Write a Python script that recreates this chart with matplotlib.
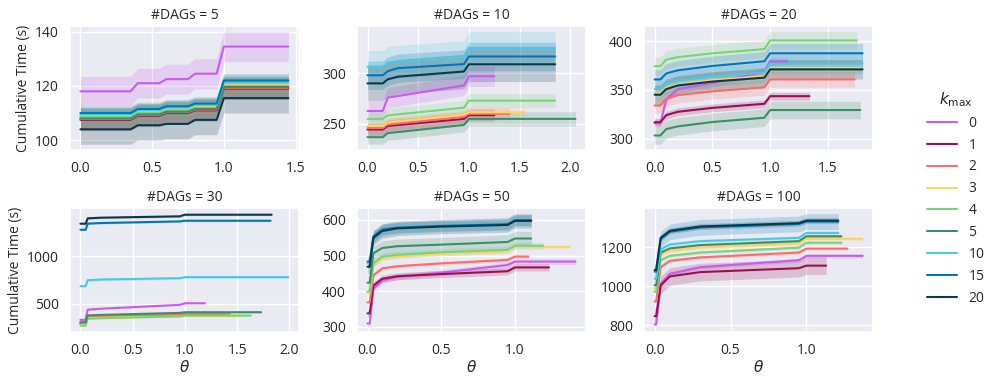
import matplotlib
matplotlib.use("Agg")
import matplotlib.pyplot as plt
import seaborn as sns
from matplotlib.lines import Line2D

sns.set_theme(style="darkgrid")
plt.rcParams['font.family'] = ['Open Sans', 'DejaVu Sans']

k_labels = ["0", "1", "2", "3", "4", "5", "10", "15", "20"]
colors = ["#c95bf0", "#9b0f52", "#ff6b6b", "#ffd166", "#77d47a",
          "#3a8f65", "#48cae4", "#0077b6", "#073b4c"]
n_dags = [5, 10, 20, 30, 50, 100]

# ---- #DAGs = 5 ----
theta_5 = [0, 0.35, 0.4, 0.55, 0.6, 0.75, 0.8, 0.95, 1.0]
end_5 = [1.45, 1.45, 1.45, 1.45, 1.45, 1.45, 1.45, 1.45, 1.45]
band_5 = [5.5, 4, 4, 3, 3, 4, 2.5, 2.5, 5.5]
time_5 = [
    [118, 118, 121, 121, 122.5, 122.5, 124.5, 124.5, 134.5],
    [107.5, 107.5, 109, 109, 110, 110, 111, 111, 119],
    [107.8, 107.8, 109.3, 109.3, 110.3, 110.3, 111.3, 111.3, 119.3],
    [109, 109, 110.5, 110.5, 111.5, 111.5, 112.5, 112.5, 120.5],
    [108.5, 108.5, 110, 110, 111, 111, 112, 112, 120],
    [108, 108, 109.5, 109.5, 110.5, 110.5, 111.5, 111.5, 119.6],
    [109.5, 109.5, 111, 111, 112, 112, 113, 113, 121.5],
    [110, 110, 111.5, 111.5, 112.5, 112.5, 113.5, 113.5, 122],
    [104, 104, 105.5, 105.5, 106, 106, 107.5, 107.5, 115.5],
]

# ---- #DAGs = 10 ----
theta_10 = [0, 0.15, 0.2, 0.3, 0.95, 1.0]
end_10 = [1.25, 1.25, 1.4, 1.55, 1.85, 2.05, 1.85, 1.85, 1.85]
band_10 = [10, 6, 6, 5, 7, 7, 16, 14, 17]
time_10 = [
    [262.8, 262.8, 276, 277.5, 288, 297],
    [244.5, 244.5, 248, 249, 255, 258.7],
    [246, 246, 249.5, 250.5, 257, 260],
    [248, 248, 251.5, 252.5, 259, 261.5],
    [255, 255, 258.4, 259.5, 266, 273],
    [237, 237, 241, 242, 249, 255],
    [306.4, 306.4, 310.5, 311.5, 316, 325],
    [298, 298, 302, 305, 309, 316.5],
    [290, 290, 294, 296.6, 301.7, 308.8],
]

# ---- #DAGs = 20 ----
theta_20 = [0, 0.05, 0.1, 0.2, 0.5, 0.95, 1.0]
end_20 = [1.15, 1.34, 1.73, 1.78, 1.75, 1.78, 1.8, 1.8, 1.8]
band_20 = [4, 4, 8, 8, 9, 9, 10, 10, 10]
time_20 = [
    [315.7, 315.7, 340, 350.7, 357, 368.6, 379.3],
    [316.8, 316.8, 324, 327.5, 331.5, 335.7, 343.5],
    [333.9, 333.9, 341, 344.5, 348.5, 352.5, 360.7],
    [346.5, 346.5, 352, 355.5, 360, 364, 372.5],
    [374.3, 374.3, 381, 383.5, 387.5, 391.8, 400.7],
    [303.2, 303.2, 309.7, 312.5, 317, 321.4, 329.3],
    [350.7, 350.7, 356, 359.5, 363.5, 367.9, 376.8],
    [360.7, 360.7, 366.8, 370, 374.5, 379.3, 387.5],
    [345, 345, 350.7, 354.5, 358.5, 362.5, 371],
]

# ---- #DAGs = 30 ----
theta_30 = [0, 0.05, 0.07, 0.2, 0.95, 1.0]
end_30 = [1.19, 1.4, 1.43, 1.55, 1.63, 1.73, 1.99, 1.82, 1.83]
band_30 = [8, 8, 8, 8, 8, 8, 15, 10, 10]
time_30 = [
    [333, 333, 440, 450, 490, 507],
    [300, 300, 370, 375, 385, 392],
    [298, 298, 372, 378, 390, 397],
    [280, 280, 352, 357, 370, 375],
    [273, 273, 345, 350, 370, 378],
    [308, 308, 380, 385, 406, 413],
    [686, 686, 748, 755, 769, 780],
    [1276, 1276, 1340, 1346, 1363, 1370],
    [1339, 1339, 1395, 1402, 1416, 1433],
]

# ---- #DAGs = 50 ----
theta_50 = [0, 0.015, 0.04, 0.1, 0.2, 0.5, 0.95, 1.0]
end_50 = [1.41, 1.23, 1.09, 1.37, 1.19, 1.11, 1.11, 1.11, 1.11]
band_50 = [8, 10, 5, 5, 10, 20, 15, 15, 20]
time_50 = [
    [309.6, 309.6, 406.7, 430.5, 440, 452, 473.4, 483],
    [338, 338, 416, 435, 442, 448, 456, 466.7],
    [368.7, 368.7, 444.8, 464, 470, 478, 487.7, 497],
    [397, 397, 472, 492.4, 497, 505, 511.5, 524],
    [399, 399, 478, 497, 502, 509, 516, 527.6],
    [424, 424, 506.7, 521, 526, 530.5, 538, 547.6],
    [478, 478, 550, 570, 577, 582, 586, 598],
    [483, 483, 554, 573, 578, 583, 587.6, 599],
    [468.6, 468.6, 549.5, 568.6, 576, 581, 585.7, 597],
]

# ---- #DAGs = 100 ----
theta_100 = [0, 0.01, 0.04, 0.1, 0.3, 0.95, 1.0]
end_100 = [1.37, 1.13, 1.27, 1.37, 1.23, 1.23, 1.21, 1.21, 1.21]
band_100 = [10, 45, 8, 8, 8, 8, 10, 40, 15]
time_100 = [
    [805, 805, 1013, 1063, 1097, 1133, 1155],
    [847, 847, 1005, 1050, 1072, 1092, 1105],
    [922, 922, 1097, 1130, 1147, 1172, 1192],
    [988, 988, 1160, 1180, 1197, 1217, 1242],
    [972, 972, 1133, 1155, 1172, 1197, 1222],
    [1005, 1005, 1172, 1193, 1210, 1230, 1255],
    [1038, 1038, 1188, 1213, 1230, 1247, 1272],
    [1075, 1075, 1240, 1278, 1300, 1318, 1330],
    [1083, 1083, 1247, 1283, 1305, 1322, 1335],
]

yticks = [[100, 120, 140], [250, 300], [300, 350, 400],
          [500, 1000], [300, 400, 500, 600], [800, 1000, 1200]]

panels = [
    (theta_5, time_5, end_5, band_5),
    (theta_10, time_10, end_10, band_10),
    (theta_20, time_20, end_20, band_20),
    (theta_30, time_30, end_30, band_30),
    (theta_50, time_50, end_50, band_50),
    (theta_100, time_100, end_100, band_100),
]

fig, axes = plt.subplots(2, 3, figsize=(9.96, 3.86), dpi=100)
fig.subplots_adjust(left=70 / 996, right=873 / 996, top=1 - 26 / 386,
                     bottom=1 - 332 / 386, wspace=0.255, hspace=0.47)

for idx, (ax, (theta, times, ends, bands)) in enumerate(zip(axes.flat, panels)):
    for i in range(len(k_labels)):
        x = list(theta) + [ends[i]]
        y = list(times[i]) + [times[i][-1]]
        lo = [v - bands[i] for v in y]
        hi = [v + bands[i] for v in y]
        ax.fill_between(x, lo, hi, color=colors[i], alpha=0.2, lw=0)
        ax.plot(x, y, color=colors[i], lw=1.5)
    ax.set_title(f"#DAGs = {n_dags[idx]}", fontsize=10, pad=5)
    ax.set_yticks(yticks[idx])
    ax.tick_params(labelsize=10, pad=2)
    if idx % 3 == 0:
        ax.set_ylabel("Cumulative Time (s)", fontsize=10, labelpad=3)
    if idx >= 3:
        ax.set_xlabel(r"$\theta$", fontsize=11, labelpad=1)

handles = [Line2D([], [], color=c, lw=1.5) for c in colors]
fig.legend(handles, k_labels, title=r"$k_{\max}$", loc="center left",
           bbox_to_anchor=(0.918, 0.487), frameon=False, fontsize=10,
           title_fontsize=11, handlelength=2.2, labelspacing=0.5)

fig.savefig("out.png", dpi=100)
